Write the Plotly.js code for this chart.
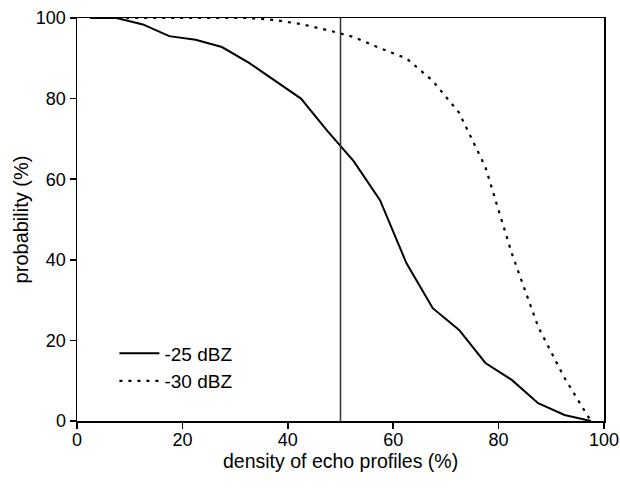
<!DOCTYPE html>
<html>
<head>
<meta charset="utf-8">
<script src="https://cdn.plot.ly/plotly-3.0.1.min.js"></script>
<style>html,body{margin:0;padding:0;background:#fff;}#chart{width:620px;height:491px;}</style>
</head>
<body>
<div id="chart"></div>
<script>
// density of echo profiles (%) - bin centres
const density = [2.5, 7.5, 12.5, 17.5, 22.5, 27.5, 32.5, 37.5, 42.5, 47.5, 52.5, 57.5, 62.5, 67.5, 72.5, 77.5, 82.5, 87.5, 92.5, 97.5];
// probability (%) for -25 dBZ
const prob25 = [100, 100, 98.4, 95.5, 94.6, 92.8, 89.0, 84.5, 80.0, 72.0, 64.5, 54.8, 39.2, 28.0, 22.6, 14.4, 10.2, 4.4, 1.5, 0];
// probability (%) for -30 dBZ
const prob30 = [100, 100, 100, 100, 100, 100, 100, 99.5, 98.5, 97.0, 95.3, 92.5, 90.0, 84.4, 76.5, 63.0, 41.6, 23.4, 10.7, 0];
const seriesNames = ["-25 dBZ", "-30 dBZ"];
const tickVals = [0, 20, 40, 60, 80, 100];
const tickLabels = ["0", "20", "40", "60", "80", "100"];
const xTitle = "density of echo profiles (%)";
const yTitle = "probability (%)";
const threshold = 50;

const font = "Liberation Sans, Arial, sans-serif";

const traces = [
  {x: density, y: prob25, name: seriesNames[0], legendgroup: "a", mode: "lines", type: "scatter",
   line: {color: "#000", width: 2}},
  {x: density, y: prob30, name: seriesNames[1], legendgroup: "b", mode: "lines", type: "scatter",
   line: {color: "#000", width: 2.2, dash: "3px,6px"}}
];

const layout = {
  width: 620, height: 491,
  margin: {l: 77, r: 16, t: 18, b: 70},
  paper_bgcolor: "#fff", plot_bgcolor: "#fff",
  font: {family: font, color: "#000", size: 18},
  showlegend: true,
  legend: {x: 0.071, y: 0.215, xanchor: "left", yanchor: "top",
    bgcolor: "rgba(0,0,0,0)", font: {family: font, size: 19, color: "#000"},
    itemwidth: 40, tracegroupgap: 0},
  xaxis: {range: [0, 100], tickvals: tickVals, ticktext: tickLabels,
    showgrid: false, zeroline: false, showline: true, linecolor: "#000", linewidth: 1.5, mirror: true,
    ticks: "outside", ticklen: 6, tickwidth: 1.5, tickcolor: "#000", ticklabelstandoff: -4,
    tickfont: {family: font, size: 18, color: "#000"}},
  yaxis: {range: [0, 100], tickvals: tickVals, ticktext: tickLabels,
    showgrid: false, zeroline: false, showline: true, linecolor: "#000", linewidth: 1.5, mirror: true,
    ticks: "outside", ticklen: 6, tickwidth: 1.5, tickcolor: "#000",
    tickfont: {family: font, size: 18, color: "#000"},
    title: {text: yTitle, font: {family: font, size: 20, color: "#000"}, standoff: 2}},
  annotations: [
    {text: xTitle, xref: "paper", yref: "paper", x: 0.5, y: -0.1, xanchor: "center", yanchor: "middle",
     showarrow: false, font: {family: font, size: 19.5, color: "#000"}}
  ],
  shapes: [
    {type: "line", xref: "x", yref: "y", x0: threshold, x1: threshold, y0: 0, y1: 100,
     line: {color: "#333", width: 1.5}}
  ]
};

Plotly.newPlot("chart", traces, layout, {staticPlot: true, displayModeBar: false});
</script>
</body>
</html>
